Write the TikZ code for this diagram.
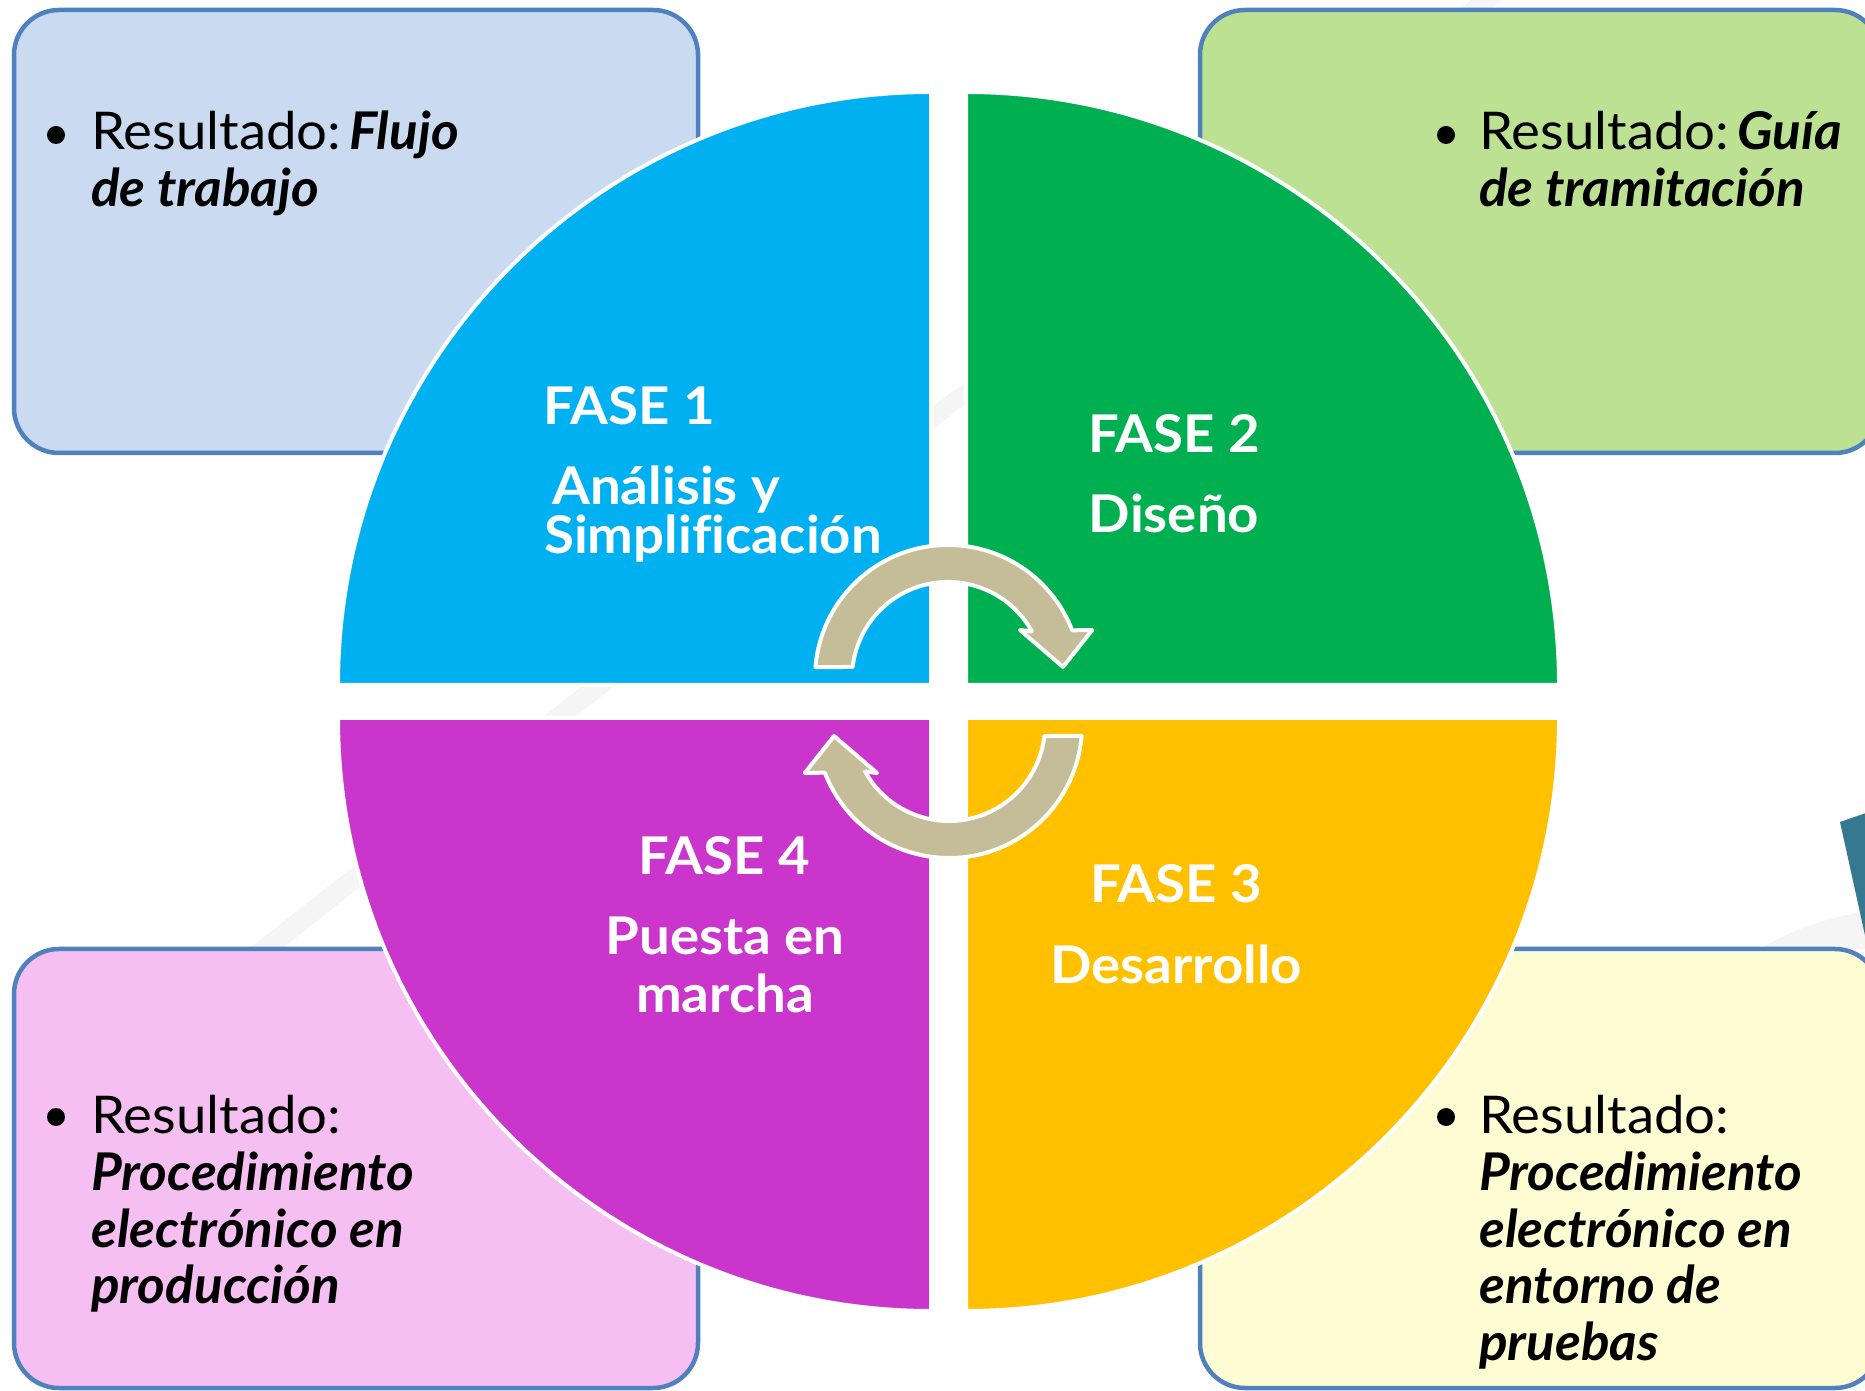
\documentclass[tikz,border=0pt]{standalone}
\usepackage{fontspec}
\setmainfont{Lato}[FakeStretch=1.05, Ligatures=NoCommon]
\newfontfamily\resfont{Lato}[FakeStretch=1.02, Ligatures=NoCommon]
\definecolor{boxline}{HTML}{4F81BD}
\definecolor{boxblue}{HTML}{CADBF1}
\definecolor{boxgreen}{HTML}{BDE193}
\definecolor{boxpink}{HTML}{F5C0F1}
\definecolor{boxyellow}{HTML}{FEFCD3}
\definecolor{qblue}{HTML}{00B0F0}
\definecolor{qgreen}{HTML}{00B050}
\definecolor{qmagenta}{HTML}{CA36CC}
\definecolor{qyellow}{HTML}{FFC000}
\definecolor{arrowfill}{HTML}{C4BD97}
\definecolor{decoteal}{HTML}{35788F}
\definecolor{faint}{HTML}{F5F5F5}
\newcommand\resit[1]{{\resfont\bfseries\itshape #1}}
\tikzset{
  resbox/.style={draw=boxline, line width=4.5, rounded corners=45},
  quad/.style={draw=white, line width=4, line join=round},
  cyclearrow/.style={fill=arrowfill, draw=white, line width=4, line join=round},
  bodytxt/.style={font=\fontsize{52}{57}\selectfont, inner sep=0, anchor=base west, text=black},
  restxt/.style={bodytxt, font=\fontsize{52}{57}\selectfont\resfont\bfseries\itshape},
  fasetxt/.style={font=\fontsize{52}{57}\selectfont\bfseries, text=white, inner sep=0, anchor=base},
  bulletdot/.style={circle, fill=black, inner sep=0, minimum size=18},
}
\begin{document}
\begin{tikzpicture}[x=1pt,y=1pt]
\useasboundingbox (0,0) rectangle (1865,1390);
\fill[white] (0,0) rectangle (1865,1390);
% faint background stripes
\draw[faint, line width=20] (150,350) -- (720,800);
\draw[faint, line width=18] (850,910) -- (1500,1400);
% decorative shapes at right edge
\fill[faint] (1760,441) .. controls (1800,465) and (1840,475) .. (1866,478) -- (1866,441) -- cycle;
\fill[decoteal] (1840,568) -- (1866,577) -- (1866,450) -- cycle;
% result boxes
\path[resbox, fill=boxblue] (14,937) rectangle (698,1380);
\path[resbox, fill=boxgreen] (1200,937) rectangle (1880,1380);
\path[resbox, fill=boxpink] (14,2) rectangle (698,441);
\path[resbox, fill=boxyellow] (1200,2) rectangle (1880,441);
% quadrants
\path[quad, fill=qblue] (931,705) -- (338,705) arc[start angle=180, end angle=90, radius=593] -- cycle;
\path[quad, fill=qgreen] (966,705) -- (966,1298) arc[start angle=90, end angle=0, radius=593] -- cycle;
\path[quad, fill=qmagenta] (931,672) -- (338,672) arc[start angle=180, end angle=270, radius=593] -- cycle;
\path[quad, fill=qyellow] (966,672) -- (966,79) arc[start angle=270, end angle=360, radius=593] -- cycle;
% result texts
\node[bulletdot] (b1) at (56,1255) {};
\node[bodytxt] (t1a) at (91,1240) {Resultado:\hspace{8pt}\resit{Flujo}};
\node[restxt] (t1b) at (91,1183) {de trabajo};
\node[bulletdot] (b2) at (1446,1255) {};
\node[bodytxt] (t2a) at (1479,1240) {Resultado:\hspace{8pt}\resit{Guía}};
\node[restxt] (t2b) at (1479,1183) {de tramitación};
\node[bulletdot] (b4) at (56,273) {};
\node[bodytxt] (t4a) at (91,257) {Resultado:};
\node[restxt] (t4b) at (91,200) {Procedimiento};
\node[restxt] (t4c) at (91,143) {electrónico en};
\node[restxt] (t4d) at (91,87) {producción};
\node[bulletdot] (b3) at (1446,273) {};
\node[bodytxt] (t3a) at (1479,257) {Resultado:};
\node[restxt] (t3b) at (1479,200) {Procedimiento};
\node[restxt] (t3c) at (1479,143) {electrónico en};
\node[restxt] (t3d) at (1479,87) {entorno de};
\node[restxt] (t3e) at (1479,30) {pruebas};
% phase texts
\node[fasetxt, anchor=base west] (f1a) at (543,965) {FASE 1};
\node[fasetxt, anchor=base west] (f1b) at (552,885) {Análisis y};
\node[fasetxt, anchor=base west] (f1c) at (544,836) {Simplificación};
\node[fasetxt] (f2a) at (1174,937) {FASE 2};
\node[fasetxt] (f2b) at (1174,857) {Diseño};
\node[fasetxt] (f3a) at (1176,487) {FASE 3};
\node[fasetxt] (f3b) at (1176,406) {Desarrollo};
\node[fasetxt] (f4a) at (724,515) {FASE 4};
\node[fasetxt] (f4b) at (725,435) {Puesta en};
\node[fasetxt] (f4c) at (725,377) {marcha};
% circular arrows
\begin{scope}[shift={(948,712)}]
\path[cyclearrow] (175.3:133) arc[start angle=175.3, end angle=21, radius=133]
  -- (18.4:152) -- (5.5:115.5) -- (33.7:86.5) -- (29:96)
  arc[start angle=29, end angle=173.4, radius=96] -- cycle;
\end{scope}
\begin{scope}[rotate around={180:(948.5,688.5)}]
\begin{scope}[shift={(948,712)}]
\path[cyclearrow] (175.3:133) arc[start angle=175.3, end angle=21, radius=133]
  -- (18.4:152) -- (5.5:115.5) -- (33.7:86.5) -- (29:96)
  arc[start angle=29, end angle=173.4, radius=96] -- cycle;
\end{scope}
\end{scope}
\end{tikzpicture}
\end{document}
